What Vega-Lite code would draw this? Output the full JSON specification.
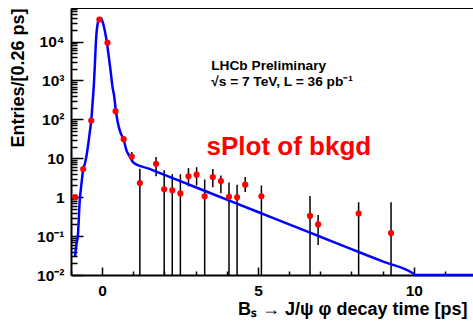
{
  "$schema": "https://vega.github.io/schema/vega-lite/v6.json",
  "width": 402,
  "height": 267,
  "autosize": "none",
  "padding": {"left": 71, "top": 8, "right": 0, "bottom": 47},
  "background": "white",
  "config": {
    "view": {"stroke": null},
    "font": "Liberation Sans",
    "axis": {
      "domainColor": "black", "tickColor": "black", "labelColor": "black", "titleColor": "black",
      "labelFont": "Liberation Sans", "titleFont": "Liberation Sans",
      "labelFontWeight": "bold", "titleFontWeight": "bold", "grid": false
    }
  },
  "datasets": {
    "pts": [
      {"t": -0.87, "v": 1.0, "lo": 1.0, "hi": 1.0},
      {"t": -0.61, "v": 5.3, "lo": 5.3, "hi": 5.3},
      {"t": -0.35, "v": 93, "lo": 93, "hi": 93},
      {"t": -0.09, "v": 37000, "lo": 37000, "hi": 37000},
      {"t": 0.17, "v": 9400, "lo": 9400, "hi": 9400},
      {"t": 0.43, "v": 163, "lo": 163, "hi": 163},
      {"t": 0.69, "v": 31, "lo": 27, "hi": 36},
      {"t": 0.95, "v": 11, "lo": 8.2, "hi": 14.5},
      {"t": 1.21, "v": 2.3, "lo": 0.01, "hi": 5.4},
      {"t": 1.73, "v": 7.2, "lo": 3.45, "hi": 10.8},
      {"t": 1.99, "v": 1.6, "lo": 0.01, "hi": 4.9},
      {"t": 2.25, "v": 1.5, "lo": 0.01, "hi": 3.9},
      {"t": 2.51, "v": 1.25, "lo": 0.01, "hi": 3.9},
      {"t": 2.77, "v": 3.45, "lo": 1.9, "hi": 5.6},
      {"t": 3.03, "v": 3.8, "lo": 2.0, "hi": 5.9},
      {"t": 3.29, "v": 1.06, "lo": 0.01, "hi": 2.85},
      {"t": 3.55, "v": 3.3, "lo": 1.8, "hi": 5.3},
      {"t": 3.81, "v": 2.6, "lo": 1.27, "hi": 3.6},
      {"t": 4.07, "v": 1.02, "lo": 0.01, "hi": 2.4},
      {"t": 4.33, "v": 0.99, "lo": 0.01, "hi": 2.1},
      {"t": 4.59, "v": 2.1, "lo": 1.37, "hi": 3.3},
      {"t": 5.11, "v": 1.06, "lo": 0.01, "hi": 2.0},
      {"t": 6.67, "v": 0.33, "lo": 0.01, "hi": 1.08},
      {"t": 6.93, "v": 0.20, "lo": 0.059, "hi": 0.35},
      {"t": 8.23, "v": 0.38, "lo": 0.01, "hi": 0.74},
      {"t": 9.27, "v": 0.12, "lo": 0.01, "hi": 0.74}
    ],
    "curve": [
      {"t": -0.87, "f": 0.03},
      {"t": -0.83, "f": 0.06},
      {"t": -0.78, "f": 0.1},
      {"t": -0.72, "f": 0.8},
      {"t": -0.67, "f": 2.0},
      {"t": -0.61, "f": 5.0},
      {"t": -0.55, "f": 7.5},
      {"t": -0.50, "f": 12},
      {"t": -0.45, "f": 22},
      {"t": -0.40, "f": 45},
      {"t": -0.35, "f": 94},
      {"t": -0.30, "f": 320},
      {"t": -0.27, "f": 700},
      {"t": -0.24, "f": 2000},
      {"t": -0.21, "f": 7000},
      {"t": -0.18, "f": 17000},
      {"t": -0.15, "f": 27000},
      {"t": -0.12, "f": 35000},
      {"t": -0.09, "f": 39500},
      {"t": -0.06, "f": 40500},
      {"t": -0.03, "f": 39000},
      {"t": 0.0, "f": 35000},
      {"t": 0.05, "f": 25500},
      {"t": 0.10, "f": 16500},
      {"t": 0.16, "f": 8500},
      {"t": 0.21, "f": 4200},
      {"t": 0.27, "f": 1800},
      {"t": 0.33, "f": 700},
      {"t": 0.385, "f": 400},
      {"t": 0.44, "f": 165},
      {"t": 0.50, "f": 85},
      {"t": 0.565, "f": 52},
      {"t": 0.62, "f": 40},
      {"t": 0.69, "f": 30},
      {"t": 0.78, "f": 16},
      {"t": 0.86, "f": 12},
      {"t": 0.94, "f": 9.3},
      {"t": 1.0, "f": 7.8},
      {"t": 1.5, "f": 5.4},
      {"t": 2.0, "f": 3.75},
      {"t": 3.0, "f": 1.80},
      {"t": 4.0, "f": 0.867},
      {"t": 5.0, "f": 0.417},
      {"t": 6.0, "f": 0.200},
      {"t": 7.0, "f": 0.0964},
      {"t": 8.0, "f": 0.0463},
      {"t": 9.0, "f": 0.0223},
      {"t": 10.0, "f": 0.0107},
      {"t": 10.05, "f": 0.01},
      {"t": 11.9, "f": 0.01}
    ]
  },
  "resolve": {"axis": {"x": "independent", "y": "independent"}},
  "layer": [
    {
      "data": {"name": "pts"},
      "mark": {"type": "rule", "color": "black", "strokeWidth": 1.5},
      "encoding": {
        "x": {
          "field": "t", "type": "quantitative",
          "scale": {"domain": [-1, 11.9], "nice": false, "zero": false},
          "axis": {
            "orient": "bottom", "values": [0, 5, 10], "tickSize": -8, "tickWidth": 1.5,
            "labelPadding": 16, "labelFontSize": 15.5, "domainWidth": 2,
            "title": "Bₛ →  J/ψ φ decay time [ps]", "titleFontSize": 18,
            "titleX": 396, "titleY": 34, "titleAlign": "right", "titleBaseline": "middle"
          }
        },
        "y": {
          "field": "lo", "type": "quantitative",
          "scale": {"type": "log", "domain": [0.01, 73000], "nice": false},
          "axis": {
            "orient": "left", "values": [0.01, 0.1, 1, 10, 100, 1000, 10000],
            "tickSize": -12, "tickWidth": 1.5, "labelPadding": 19, "labelFontSize": 15.5, "domainWidth": 2,
            "labelExpr": "datum.value < 0.05 ? '10⁻²' : datum.value < 0.5 ? '10⁻¹' : datum.value < 5 ? '1' : datum.value < 50 ? '10' : datum.value < 500 ? '10²' : datum.value < 5000 ? '10³' : '10⁴'",
            "title": "Entries/[0.26 ps]", "titleFontSize": 18,
            "titleX": -53, "titleY": 0, "titleAngle": 270, "titleAlign": "right", "titleBaseline": "middle"
          }
        },
        "y2": {"field": "hi"}
      }
    },
    {
      "data": {"name": "curve"},
      "mark": {"type": "line", "color": "#0000ff", "strokeWidth": 2.5, "interpolate": "monotone"},
      "encoding": {
        "x": {
          "field": "t", "type": "quantitative",
          "axis": {"orient": "bottom", "values": [-1, 1, 2, 3, 4, 6, 7, 8, 9, 11], "tickSize": -4, "tickWidth": 1.5, "labels": false, "domain": false, "title": null}
        },
        "y": {
          "field": "f", "type": "quantitative",
          "axis": {
            "orient": "left",
            "values": [0.02, 0.03, 0.04, 0.05, 0.06, 0.07, 0.08, 0.09, 0.2, 0.3, 0.4, 0.5, 0.6, 0.7, 0.8, 0.9, 2, 3, 4, 5, 6, 7, 8, 9, 20, 30, 40, 50, 60, 70, 80, 90, 200, 300, 400, 500, 600, 700, 800, 900, 2000, 3000, 4000, 5000, 6000, 7000, 8000, 9000, 20000, 30000, 40000, 50000, 60000, 70000],
            "tickSize": -6, "tickWidth": 1.5, "labels": false, "domain": false, "title": null
          }
        }
      }
    },
    {
      "data": {"name": "pts"},
      "mark": {"type": "circle", "color": "#ff0000", "opacity": 1, "size": 38},
      "encoding": {
        "x": {"field": "t", "type": "quantitative", "axis": {"orient": "top", "ticks": false, "labels": false, "domain": true, "domainWidth": 1, "title": null}},
        "y": {"field": "v", "type": "quantitative", "axis": null}
      }
    },
    {
      "data": {"values": [{}]},
      "mark": {"type": "text", "text": "LHCb Preliminary", "align": "left", "baseline": "alphabetic", "font": "Liberation Sans", "fontWeight": "bold", "fontSize": 13.7, "color": "black"},
      "encoding": {
        "x": {"datum": 3.5, "type": "quantitative", "axis": null},
        "y": {"datum": 1840, "type": "quantitative", "axis": null}
      }
    },
    {
      "data": {"values": [{}]},
      "mark": {"type": "text", "text": "√s = 7 TeV, L = 36 pb⁻¹", "align": "left", "baseline": "alphabetic", "font": "Liberation Sans", "fontWeight": "bold", "fontSize": 13.7, "color": "black"},
      "encoding": {
        "x": {"datum": 3.5, "type": "quantitative", "axis": null},
        "y": {"datum": 710, "type": "quantitative", "axis": null}
      }
    },
    {
      "data": {"values": [{}]},
      "mark": {"type": "text", "text": "sPlot of bkgd", "align": "left", "baseline": "alphabetic", "font": "Liberation Sans", "fontWeight": "bold", "fontSize": 26, "color": "#ff0000"},
      "encoding": {
        "x": {"datum": 3.35, "type": "quantitative", "axis": null},
        "y": {"datum": 12, "type": "quantitative", "axis": null}
      }
    }
  ]
}
